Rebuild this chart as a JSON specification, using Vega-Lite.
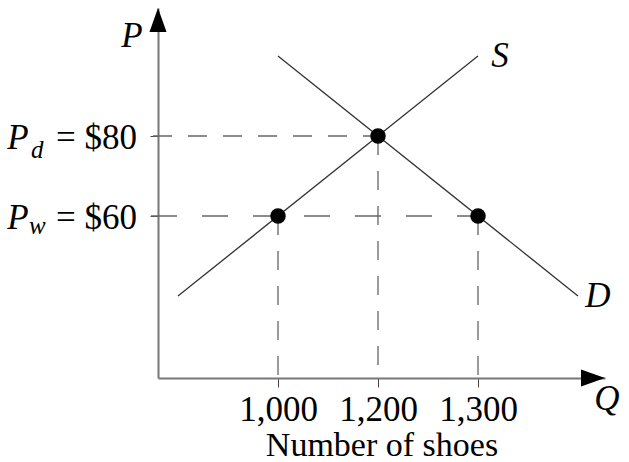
{
  "$schema": "https://vega.github.io/schema/vega-lite/v6.json",
  "autosize": "none",
  "width": 447,
  "height": 370,
  "padding": {"left": 158, "top": 8, "right": 24, "bottom": 84},
  "background": "white",
  "config": {"view": {"stroke": null}},
  "datasets": {
    "curves": [
      {"curve": "S", "q": 0.2, "p": 40},
      {"curve": "S", "q": 3.2, "p": 100},
      {"curve": "D", "q": 1.2, "p": 100},
      {"curve": "D", "q": 4.2, "p": 40}
    ],
    "points": [
      {"q": 1.2, "p": 60},
      {"q": 2.2, "p": 80},
      {"q": 3.2, "p": 60}
    ],
    "hdash80": [{"q0": -0.05, "q1": 2.2, "p": 80}],
    "hdash60": [{"q0": -0.07, "q1": 3.2, "p": 60}],
    "vdash": [
      {"q": 1.2, "p0": 60, "p1": 19.5},
      {"q": 2.2, "p0": 80, "p1": 19.5},
      {"q": 3.2, "p0": 60, "p1": 19.5}
    ],
    "arrowUp": [{"q": 0, "p": 109}],
    "arrowRight": [{"q": 4.35, "p": 19.5}],
    "italicLabels": [
      {"q": -0.26, "p": 102.25, "t": "P", "a": "center"},
      {"q": 3.42, "p": 97.25, "t": "S", "a": "center"},
      {"q": 4.4, "p": 37.25, "t": "D", "a": "center"},
      {"q": 4.49, "p": 11.5, "t": "Q", "a": "left"},
      {"q": -1.4, "p": 76.75, "t": "P", "a": "left"},
      {"q": -1.4, "p": 56.75, "t": "P", "a": "left"}
    ],
    "subs": [
      {"q": -1.27, "p": 74.5, "t": "d"},
      {"q": -1.29, "p": 55.5, "t": "w"}
    ],
    "priceLabels": [
      {"q": -0.21, "p": 76.75, "t": "= $80"},
      {"q": -0.21, "p": 56.75, "t": "= $60"}
    ]
  },
  "layer": [
    {
      "data": {"name": "points"},
      "mark": {"type": "point", "opacity": 0},
      "encoding": {
        "x": {
          "field": "q", "type": "quantitative",
          "scale": {"domain": [0, 4.47], "nice": false, "zero": false},
          "axis": {
            "values": [1.2, 2.2, 3.2],
            "labelExpr": "datum.value == 1.2 ? '1,000' : datum.value == 2.2 ? '1,200' : '1,300'",
            "grid": false,
            "domainColor": "#777", "domainWidth": 2,
            "tickColor": "#444", "tickWidth": 1, "tickSize": 9,
            "labelFont": "Liberation Serif", "labelFontSize": 35, "labelColor": "black",
            "labelPadding": 5, "labelFlush": false, "labelOverlap": false,
            "title": "Number of shoes",
            "titleFont": "Liberation Serif", "titleFontSize": 34, "titleFontWeight": "normal",
            "titleColor": "black", "titlePadding": 1
          }
        },
        "y": {
          "field": "p", "type": "quantitative",
          "scale": {"domain": [19.5, 112], "nice": false, "zero": false},
          "axis": {
            "values": [60, 80],
            "labels": false, "grid": false, "title": null,
            "domainColor": "#777", "domainWidth": 2,
            "tickColor": "#444", "tickWidth": 1, "tickSize": 8
          }
        }
      }
    },
    {
      "data": {"name": "hdash80"},
      "mark": {"type": "rule", "color": "#666", "strokeWidth": 1.3, "strokeDash": [19, 16]},
      "encoding": {
        "x": {"field": "q0", "type": "quantitative"},
        "x2": {"field": "q1"},
        "y": {"field": "p", "type": "quantitative"}
      }
    },
    {
      "data": {"name": "hdash60"},
      "mark": {"type": "rule", "color": "#666", "strokeWidth": 1.3, "strokeDash": [26, 25]},
      "encoding": {
        "x": {"field": "q0", "type": "quantitative"},
        "x2": {"field": "q1"},
        "y": {"field": "p", "type": "quantitative"}
      }
    },
    {
      "data": {"name": "vdash"},
      "mark": {"type": "rule", "color": "#666", "strokeWidth": 1.3, "strokeDash": [19, 16]},
      "encoding": {
        "x": {"field": "q", "type": "quantitative"},
        "y": {"field": "p0", "type": "quantitative"},
        "y2": {"field": "p1"}
      }
    },
    {
      "data": {"name": "curves"},
      "mark": {"type": "line", "color": "#333", "strokeWidth": 1.3},
      "encoding": {
        "x": {"field": "q", "type": "quantitative"},
        "y": {"field": "p", "type": "quantitative"},
        "detail": {"field": "curve", "type": "nominal"}
      }
    },
    {
      "data": {"name": "points"},
      "mark": {"type": "point", "filled": true, "color": "black", "opacity": 1, "size": 240, "shape": "circle"},
      "encoding": {
        "x": {"field": "q", "type": "quantitative"},
        "y": {"field": "p", "type": "quantitative"}
      }
    },
    {
      "data": {"name": "arrowUp"},
      "mark": {"type": "point", "filled": true, "color": "black", "opacity": 1, "size": 576, "shape": "M0,-1L0.71,1L-0.71,1Z"},
      "encoding": {
        "x": {"field": "q", "type": "quantitative"},
        "y": {"field": "p", "type": "quantitative"}
      }
    },
    {
      "data": {"name": "arrowRight"},
      "mark": {"type": "point", "filled": true, "color": "black", "opacity": 1, "size": 576, "shape": "M1,0L-1,-0.71L-1,0.71Z"},
      "encoding": {
        "x": {"field": "q", "type": "quantitative"},
        "y": {"field": "p", "type": "quantitative"}
      }
    },
    {
      "data": {"name": "italicLabels"},
      "mark": {"type": "text", "font": "Liberation Serif", "fontSize": 35, "fontStyle": "italic", "color": "black", "baseline": "alphabetic"},
      "encoding": {
        "x": {"field": "q", "type": "quantitative"},
        "y": {"field": "p", "type": "quantitative"},
        "text": {"field": "t"},
        "align": {"field": "a", "type": "nominal", "scale": null}
      }
    },
    {
      "data": {"name": "subs"},
      "mark": {"type": "text", "font": "Liberation Serif", "fontSize": 25, "fontStyle": "italic", "color": "black", "baseline": "alphabetic", "align": "left"},
      "encoding": {
        "x": {"field": "q", "type": "quantitative"},
        "y": {"field": "p", "type": "quantitative"},
        "text": {"field": "t"}
      }
    },
    {
      "data": {"name": "priceLabels"},
      "mark": {"type": "text", "font": "Liberation Serif", "fontSize": 35, "color": "black", "baseline": "alphabetic", "align": "right"},
      "encoding": {
        "x": {"field": "q", "type": "quantitative"},
        "y": {"field": "p", "type": "quantitative"},
        "text": {"field": "t"}
      }
    }
  ]
}
